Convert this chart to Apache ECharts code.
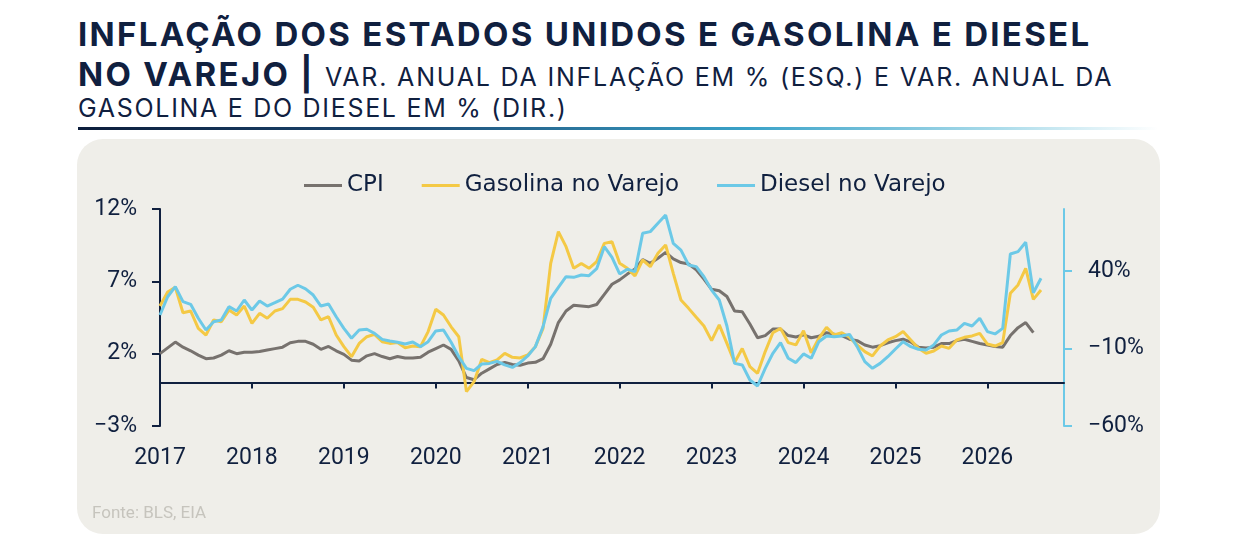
<!DOCTYPE html>
<html>
<head>
<meta charset="utf-8">
<title>Inflação dos Estados Unidos e Gasolina e Diesel no Varejo</title>
<script src="https://cdn.jsdelivr.net/npm/echarts@6/dist/echarts.min.js"></script>
<style>
body { margin: 0; width: 1240px; height: 534px; background: #fff; position: relative; overflow: hidden;
       font-family: Inter, 'DejaVu Sans', sans-serif; color: #10203f; }
.t { position: absolute; left: 78px; white-space: nowrap; line-height: 1; }
#t1 { top: 18px; font-size: 33px; font-weight: 700; letter-spacing: 2.3px; }
#t2 { top: 58px; font-size: 33px; font-weight: 700; letter-spacing: 2.3px; }
#t2 span { font-size: 25px; font-weight: 400; letter-spacing: 1.8px; }
#t3 { top: 96px; font-size: 25px; font-weight: 400; letter-spacing: 1.7px; }
#bar { position: absolute; left: 78px; top: 127px; width: 1080px; height: 3px;
       background: linear-gradient(to right, #0c1d3b 0%, #1c4a74 30%, #3aa2c8 62%, #a9dbea 85%, rgba(255,255,255,0) 100%); }
#chart { position: absolute; left: 77px; top: 139px; width: 1083px; height: 395px;
         background: #efeee9; border-radius: 26px; }
</style>
</head>
<body>
<div class="t" id="t1">INFLAÇÃO DOS ESTADOS UNIDOS E GASOLINA E DIESEL</div>
<div class="t" id="t2">NO VAREJO | <span>VAR. ANUAL DA INFLAÇÃO EM % (ESQ.) E VAR. ANUAL DA</span></div>
<div class="t" id="t3">GASOLINA E DO DIESEL EM % (DIR.)</div>
<div id="bar"></div>
<div id="chart"></div>
<script>
/*
 * 数据
 */
var seriesNames = ['CPI', 'Gasolina no Varejo', 'Diesel no Varejo'];

// CPI, var. anual em % (eixo esquerdo)
var cpi = [
	2.0, 2.4, 2.8, 2.45, 2.2, 1.9, 1.65, 1.7, 1.9, 2.2, 2.0, 2.1,
	2.1, 2.15, 2.25, 2.35, 2.45, 2.75, 2.85, 2.85, 2.65, 2.3, 2.5, 2.2,
	1.95, 1.55, 1.5, 1.85, 2.0, 1.8, 1.65, 1.8, 1.7, 1.7, 1.75, 2.1,
	2.35, 2.6, 2.3, 1.5, 0.35, 0.2, 0.65, 0.95, 1.25, 1.4, 1.25, 1.2,
	1.35, 1.4, 1.65, 2.65, 4.15, 4.95, 5.35, 5.3, 5.25, 5.4, 6.1, 6.8,
	7.1, 7.5, 7.85, 8.5, 8.25, 8.6, 9.0, 8.55, 8.3, 8.2, 7.8, 7.15,
	6.45, 6.35, 5.95, 4.95, 4.9, 4.05, 3.1, 3.25, 3.7, 3.7, 3.25, 3.15,
	3.3, 3.1, 3.2, 3.45, 3.35, 3.25, 3.0, 2.9, 2.6, 2.45, 2.55, 2.75,
	2.9, 3.0, 2.8, 2.45, 2.4, 2.45, 2.7, 2.7, 2.9, 3.0, 2.85, 2.7,
	2.6, 2.5, 2.45, 3.25, 3.8, 4.15, 3.45
];

// Gasolina no varejo, var. anual em % (eixo direito)
var gasolina = [
	17.4, 26.5, 29.5, 13.1, 14.2, 3.0, -1.3, 8.4, 7.3, 14.8, 11.6, 17.4,
	6.2, 12.7, 9.5, 14.2, 15.7, 21.7, 21.7, 20.0, 16.6, 8.4, 10.5, -1.3,
	-8.8, -15.3, -6.7, -2.4, -0.9, -5.6, -6.7, -6.2, -9.5, -8.4, -8.8, 0.9,
	15.3, 11.6, 4.0, -2.4, -37.8, -31.4, -17.0, -19.1, -17.4, -13.1, -15.7, -16.1,
	-14.2, -8.8, 3.0, 44.9, 65.4, 55.7, 41.7, 44.9, 41.7, 46.0, 57.8, 58.9,
	45.0, 41.7, 36.8, 47.1, 42.8, 51.4, 56.8, 38.5, 21.3, 15.9, 10.1, 4.5,
	-4.9, 5.2, -6.7, -19.0, -10.0, -21.7, -26.0, -12.0, 0.2, 3.0, -6.2, -7.7,
	1.5, -12.7, -3.4, 3.7, -1.3, 0.2, -2.8, -7.7, -12.0, -14.8, -8.4, -4.5,
	-2.4, 0.9, -4.5, -9.9, -13.1, -11.6, -8.4, -9.9, -4.5, -2.8, -1.9, -0.2,
	-7.1, -8.4, -6.2, 25.6, 31.0, 41.7, 21.7, 27.7
];

// Diesel no varejo, var. anual em % (eixo direito)
var diesel = [
	11.6, 23.4, 29.9, 20.2, 18.5, 9.5, 1.9, 7.3, 8.4, 17.0, 14.2, 21.3,
	14.8, 20.6, 17.4, 19.6, 21.9, 28.2, 30.8, 28.5, 24.5, 17.4, 18.7, 10.5,
	3.0, -3.4, 1.9, 2.4, -0.2, -4.1, -5.2, -6.0, -7.1, -5.8, -8.8, -5.6,
	1.3, 1.9, -6.0, -15.3, -22.8, -24.3, -20.0, -19.6, -18.3, -20.6, -22.2, -19.1,
	-14.8, -8.8, 4.1, 22.4, 29.5, 36.3, 35.9, 37.4, 37.0, 41.5, 55.7, 48.8,
	38.1, 41.1, 39.6, 64.3, 65.4, 70.8, 76.1, 57.8, 53.5, 43.9, 42.8, 36.3,
	27.7, 21.3, 4.5, -19.6, -20.6, -30.3, -34.2, -22.8, -13.1, -6.2, -16.3, -19.1,
	-13.5, -16.3, -5.6, -1.9, -2.4, -1.9, -0.9, -8.8, -18.5, -22.8, -19.6, -15.3,
	-10.3, -5.6, -8.8, -10.5, -11.0, -7.7, -1.3, 1.3, 1.9, 6.2, 4.5, 9.5,
	0.9, -0.6, 3.0, 51.0, 52.5, 58.5, 26.0, 35.3
];

// 横轴: 2017-01 ... 2026-11
var months = [];
for (var y = 2017; y <= 2026; y++) {
	for (var m = 1; m <= 12; m++) {
		months.push(y + '-' + (m < 10 ? '0' + m : m));
	}
}
months = months.slice(0, 119);

var rightTicks = [-60, -10, 40];

var navy = '#10203f';
var gray = '#77726e';
var yellow = '#f4c945';
var blue = '#6cc9e7';

function isJan(i, v) {
	return v.slice(5) === '01';
}
function pct(v) {
	return String(v).replace('-', '\u2212') + '%';
}

var chart = echarts.init(document.getElementById('chart'));
var option = {
	backgroundColor: 'transparent',
	animation: false,
	textStyle: { fontFamily: 'Roboto' },
	legend: {
		data: seriesNames,
		icon: 'rect',
		left: 222,
		top: 30,
		itemWidth: 38,
		itemHeight: 3,
		itemGap: 38,
		textStyle: { fontFamily: 'DejaVu Sans', fontSize: 23, color: navy }
	},
	grid: { left: 83, right: 96, top: 70, bottom: 108 },
	xAxis: [{
		type: 'category',
		data: months,
		boundaryGap: false,
		axisLine: { onZero: true, onZeroAxisIndex: 0, lineStyle: { color: navy, width: 2 } },
		axisTick: { show: true, length: 6, interval: isJan, lineStyle: { color: navy, width: 2 } },
		axisLabel: { show: false },
		splitLine: { show: false }
	}, {
		type: 'category',
		data: months,
		boundaryGap: false,
		position: 'bottom',
		axisLine: { show: false, onZero: false },
		axisTick: { show: false },
		axisLabel: {
			interval: isJan,
			formatter: function (v) { return v.slice(0, 4); },
			margin: 21,
			fontSize: 23,
			color: navy,
			fontFamily: 'Roboto'
		},
		splitLine: { show: false }
	}],
	yAxis: [{
		type: 'value',
		position: 'left',
		min: -3,
		max: 12,
		interval: 5,
		axisLine: { show: true, lineStyle: { color: navy, width: 2 } },
		axisTick: { show: true, length: 8, lineStyle: { color: navy, width: 2 } },
		axisLabel: { formatter: pct, fontSize: 23, color: navy, margin: 23, fontFamily: 'Roboto' },
		splitLine: { show: false }
	}, {
		type: 'value',
		position: 'right',
		min: -60,
		max: 80,
		axisLine: { show: true, lineStyle: { color: blue, width: 2 } },
		axisTick: { show: true, length: 8, customValues: rightTicks, lineStyle: { color: blue, width: 2 } },
		axisLabel: { customValues: rightTicks, formatter: pct, fontSize: 23, color: navy, margin: 24, fontFamily: 'Roboto' },
		splitLine: { show: false }
	}],
	series: [{
		name: 'CPI',
		type: 'line',
		data: cpi,
		xAxisIndex: 0,
		yAxisIndex: 0,
		symbol: 'none',
		lineStyle: { width: 3, color: gray },
		itemStyle: { color: gray }
	}, {
		name: 'Gasolina no Varejo',
		type: 'line',
		data: gasolina,
		xAxisIndex: 0,
		yAxisIndex: 1,
		symbol: 'none',
		lineStyle: { width: 3, color: yellow },
		itemStyle: { color: yellow }
	}, {
		name: 'Diesel no Varejo',
		type: 'line',
		data: diesel,
		xAxisIndex: 0,
		yAxisIndex: 1,
		symbol: 'none',
		lineStyle: { width: 3, color: blue },
		itemStyle: { color: blue }
	}],
	graphic: [{
		type: 'text',
		left: 15,
		top: 366,
		style: { text: 'Fonte: BLS, EIA', fontSize: 17, fill: '#c6c4bd', fontFamily: 'Roboto' }
	}]
};
chart.setOption(option, true);
</script>
</body>
</html>
